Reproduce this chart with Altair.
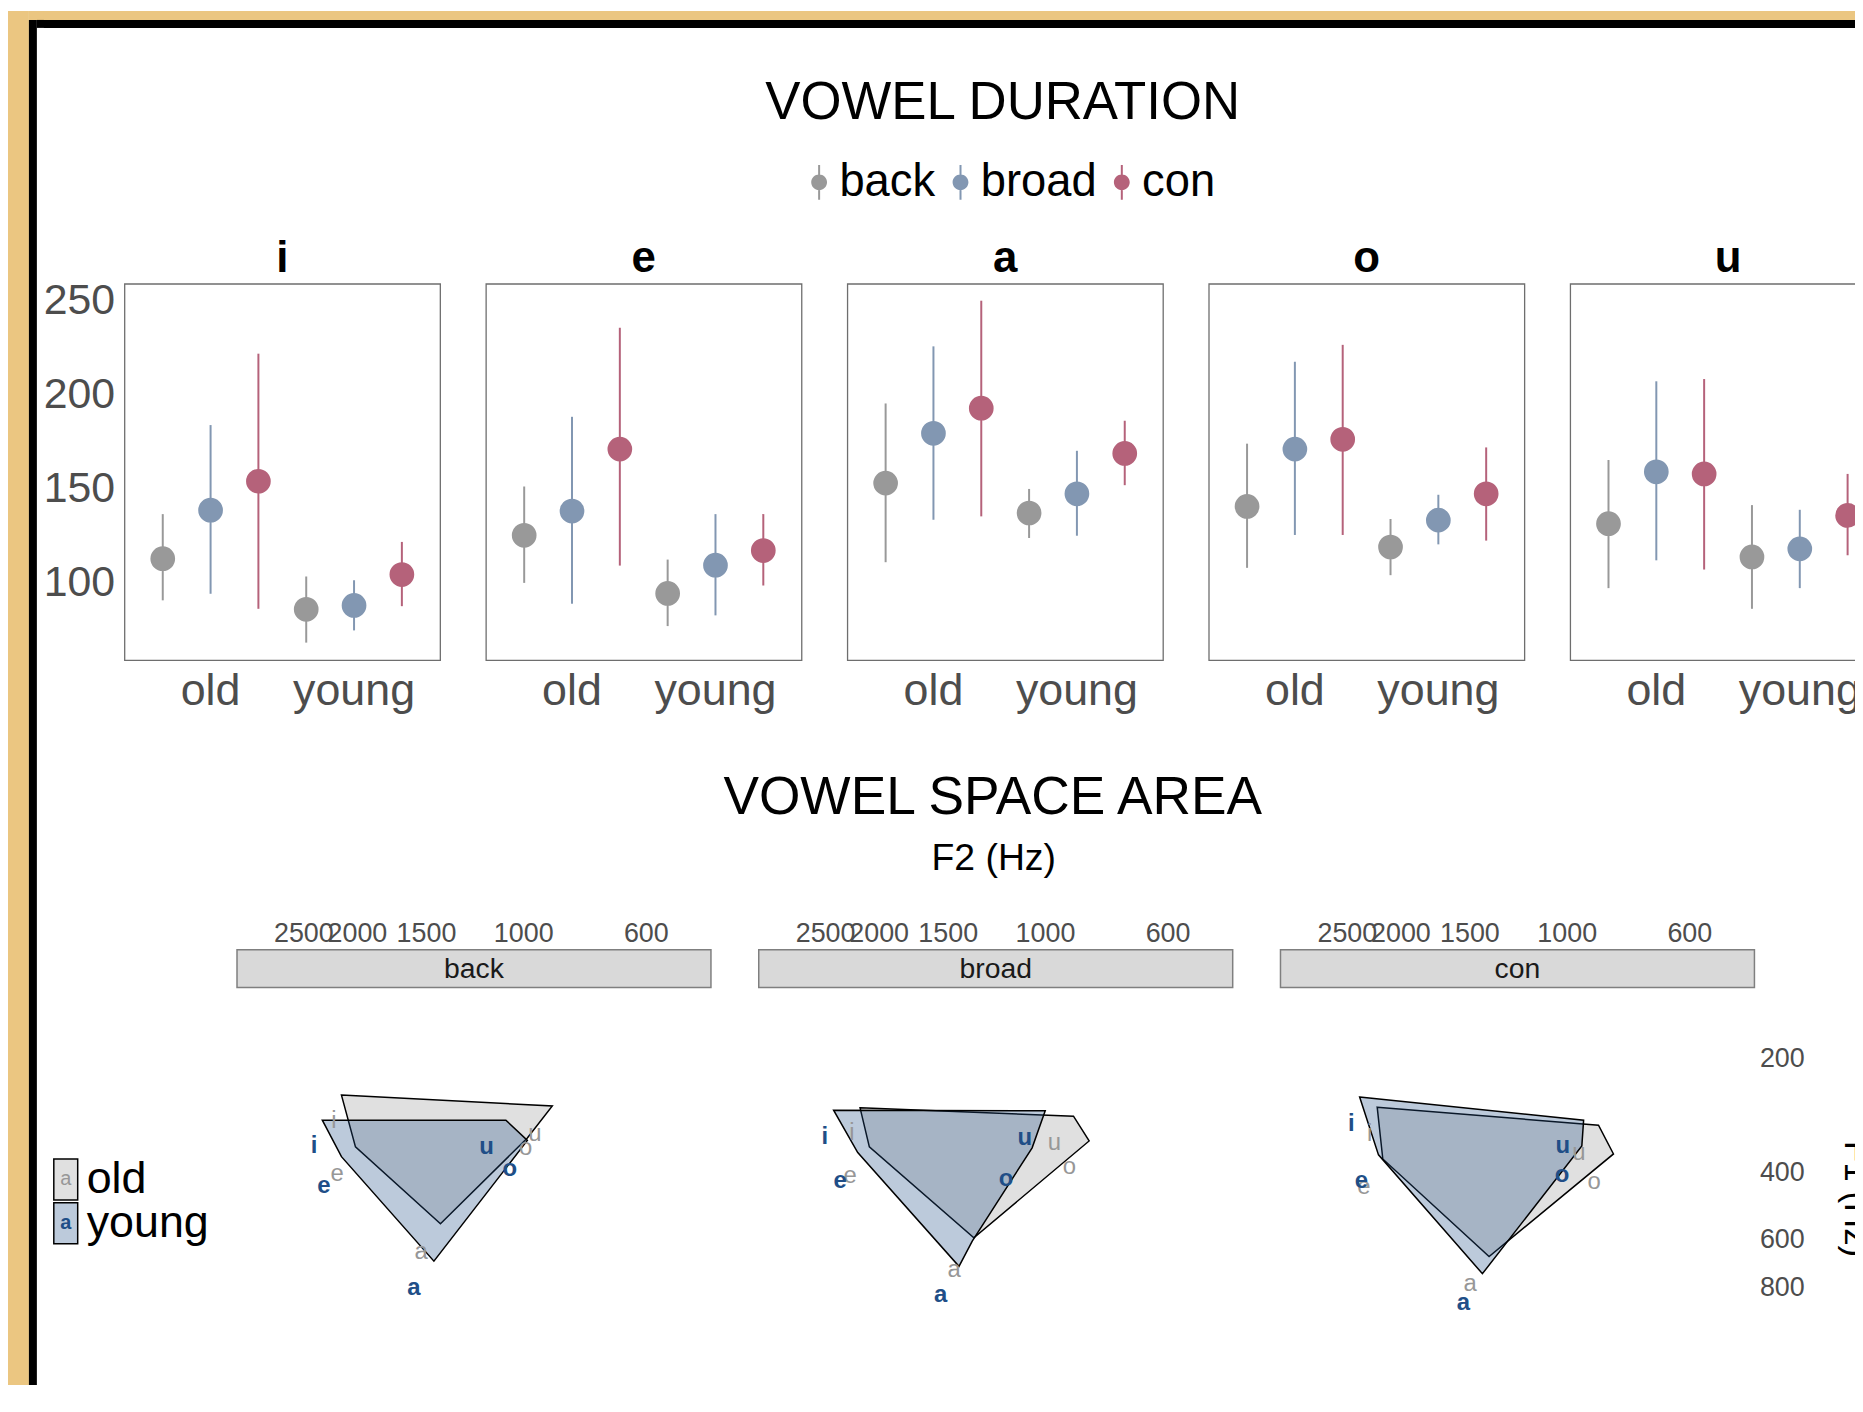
import altair as alt
import pandas as pd

FONT = "Liberation Sans"
ORANGE = "#EBC681"
TITLE_TOP = "VOWEL DURATION"
TITLE_BOTTOM = "VOWEL SPACE AREA"
X_TITLE_BOTTOM = "F2 (Hz)"

# ---------------- vowel duration data ----------------
vowels = ["i", "e", "a", "o", "u"]
ages = ["old", "young"]
groups = ["back", "broad", "con"]
group_colors = ["#999999", "#8297B2", "#B5627A"]

# order inside each list: old-back, old-broad, old-con, young-back, young-broad, young-con
dur_mean = {
    "i": [112.7, 138.5, 153.9, 85.7, 87.8, 104.2],
    "e": [125.1, 138.0, 171.0, 94.2, 109.2, 117.0],
    "a": [152.9, 179.4, 192.8, 137.0, 147.2, 168.7],
    "o": [140.5, 171.0, 176.2, 118.9, 133.2, 147.2],
    "u": [131.3, 158.9, 157.8, 113.6, 117.9, 135.7],
}
dur_low = {
    "i": [90.5, 94.0, 86.0, 68.0, 74.5, 87.4],
    "e": [99.8, 88.7, 109.0, 76.8, 82.5, 98.4],
    "a": [110.8, 133.4, 135.2, 123.7, 124.9, 151.8],
    "o": [107.8, 125.3, 125.3, 103.9, 120.3, 122.3],
    "u": [97.0, 111.8, 106.9, 86.0, 97.0, 114.5],
}
dur_high = {
    "i": [136.4, 183.8, 221.8, 103.2, 101.2, 121.6],
    "e": [151.1, 188.2, 235.6, 112.2, 136.4, 136.4],
    "a": [195.3, 225.7, 250.0, 149.8, 170.1, 186.1],
    "o": [173.9, 217.5, 226.5, 133.8, 146.7, 171.9],
    "u": [165.2, 207.1, 208.3, 141.2, 138.7, 157.8],
}

# ---------------- vowel space data (Hz) ----------------
age_fill = ["#979797", "#204E87"]
poly_f2 = {
    ("back", "old"): [2133, 886, 983, 1412, 2012],
    ("back", "young"): [2310, 1075, 983, 1451, 2133],
    ("broad", "old"): [2161, 888, 832, 1345, 2079],
    ("broad", "young"): [2413, 999, 1055, 1354, 1431, 2182],
    ("con", "old"): [2203, 876, 823, 1382, 2152],
    ("con", "young"): [2370, 932, 939, 1421, 2191],
}
poly_f1 = {
    ("back", "old"): [250, 267, 324, 545, 342],
    ("back", "young"): [291, 291, 329, 683, 363],
    ("broad", "old"): [270, 284, 330, 593, 342],
    ("broad", "young"): [274, 275, 344, 605, 705, 354],
    ("con", "old"): [269, 300, 357, 664, 368],
    ("con", "young"): [253, 291, 340, 737, 359],
}
# label order: i, e, a, o, u
label_f2 = {
    ("back", "young"): [2391, 2295, 1577, 1058, 1165],
    ("back", "old"): [2202, 2171, 1530, 990, 953],
    ("broad", "young"): [2504, 2348, 1544, 1176, 1088],
    ("broad", "old"): [2236, 2252, 1460, 903, 962],
    ("con", "young"): [2453, 2353, 1538, 1020, 1016],
    ("con", "old"): [2274, 2328, 1496, 892, 951],
}
label_f1 = {
    ("back", "young"): [340, 433, 806, 391, 342],
    ("back", "old"): [292, 402, 647, 344, 317],
    ("broad", "young"): [323, 420, 840, 416, 325],
    ("broad", "old"): [314, 407, 720, 387, 335],
    ("con", "young"): [298, 420, 880, 405, 340],
    ("con", "old"): [317, 437, 786, 424, 356],
}

# ---------------- tables ----------------
rows = []
for v in vowels:
    k = 0
    for a in ages:
        for g in groups:
            rows.append(dict(vowel=v, age=a, grp=g, mean=dur_mean[v][k],
                             lo=dur_low[v][k], hi=dur_high[v][k]))
            k += 1
dur_df = pd.DataFrame(rows)

vrows = []
for g in groups:
    for a in ages:
        for j, (f2, f1) in enumerate(zip(poly_f2[(g, a)], poly_f1[(g, a)])):
            vrows.append(dict(grp=g, age=a, kind="poly", ord=j, vowel="", F2=f2, F1=f1))
        for j, (f2, f1) in enumerate(zip(label_f2[(g, a)], label_f1[(g, a)])):
            vrows.append(dict(grp=g, age=a, kind="label", ord=j, vowel=vowels[j], F2=f2, F1=f1))
vsa_df = pd.DataFrame(vrows)

one = pd.DataFrame({"k": [0]})
PAGE_H = 1380


def band(x1, x2, y1, y2, color):
    return alt.Chart(one).mark_rect(color=color).encode(
        x=alt.value(x1), x2=alt.value(x2), y=alt.value(y1), y2=alt.value(y2))


def title_text(txt, size, x, y):
    return alt.Chart(one).mark_text(text=txt, fontSize=size, font=FONT, baseline="alphabetic",
                                    align="center", color="black").encode(x=alt.value(x), y=alt.value(y))


# ---------------- header (title + legend) ----------------
legend_path = ("M0.087,-1.1L0.213,-1.1L0.213,1.1L0.087,1.1Z "
               "M-0.35,0A0.5,0.5 0 1,1 0.65,0A0.5,0.5 0 1,1 -0.35,0Z")
hdr_df = pd.DataFrame({"grp": groups})
dummy = alt.Chart(hdr_df).mark_point(filled=True, opacity=0).encode(
    x=alt.value(10), y=alt.value(100),
    color=alt.Color("grp:N", sort=groups,
                    scale=alt.Scale(domain=groups, range=group_colors),
                    legend=alt.Legend(title=None, orient="none", legendX=672.5, legendY=149,
                                      direction="horizontal", symbolType=legend_path,
                                      symbolSize=1012, symbolStrokeWidth=0, symbolOpacity=1,
                                      labelFontSize=45.5, labelFont=FONT, labelColor="black",
                                      labelOffset=0, columnPadding=0, padding=0)))
header = alt.layer(
    band(-81, 1770, 0, 9, ORANGE),
    band(-81, 1770, 9, 17, "black"),
    title_text(TITLE_TOP, 53, 882, 108),
    dummy,
).properties(width=1700, height=190)

# ---------------- top facet: vowel duration ----------------
ydom = [58.66, 259.0]
xenc = alt.X("age:N", sort=ages, scale=alt.Scale(paddingInner=0, paddingOuter=0.1),
             axis=alt.Axis(title=None, labelAngle=0, labelFontSize=45, labelColor="#4D4D4D",
                           ticks=False, domain=False, labelPadding=8, labelFont=FONT))
xoff = alt.XOffset("grp:N", sort=groups, scale=alt.Scale(paddingInner=0, paddingOuter=0))
col = alt.Color("grp:N", sort=groups, scale=alt.Scale(domain=groups, range=group_colors), legend=None)
yaxis = alt.Axis(title=None, values=[100, 150, 200, 250], labelFontSize=43, labelColor="#4D4D4D",
                 ticks=False, domain=False, grid=False, labelPadding=9, labelFont=FONT)

rules = alt.Chart().mark_rule(strokeWidth=2).encode(
    x=xenc, xOffset=xoff,
    y=alt.Y("lo:Q", scale=alt.Scale(domain=ydom, nice=False, zero=False), axis=yaxis),
    y2="hi:Q", color=col)
points = alt.Chart().mark_circle(size=616, opacity=1).encode(
    x=xenc, xOffset=xoff,
    y=alt.Y("mean:Q", scale=alt.Scale(domain=ydom, nice=False, zero=False), axis=yaxis),
    color=col)
top_facet = alt.layer(rules, points, data=dur_df).properties(
    width=317, height=378,
    view=alt.ViewBackground(stroke="#6E6E6E", strokeWidth=1.3),
).facet(
    column=alt.Column("vowel:N", sort=vowels,
                      header=alt.Header(title=None, labelFontSize=44, labelFontWeight="bold",
                                        labelFont=FONT, labelColor="black", labelPadding=2,
                                        labelBaseline="top")),
    spacing=44,
)

# ---------------- second header (bottom title) ----------------
header2 = alt.layer(
    title_text(TITLE_BOTTOM, 53.5, 872, 67),
    title_text(X_TITLE_BOTTOM, 37.5, 873, 123),
).properties(width=1500, height=138.7)

# ---------------- bottom facet: vowel space area ----------------
x2enc = alt.X("F2:Q", scale=alt.Scale(type="log", domain=[457.4, 3296.2], reverse=True, nice=False, zero=False),
              axis=alt.Axis(orient="top", values=[2500, 2000, 1500, 1000, 600], format="d", title=None,
                            labelFontSize=27, labelColor="#4D4D4D", ticks=False, domain=False, grid=False,
                            labelPadding=0, labelFont=FONT, labelOverlap=False, labelFlush=False))
y2enc = alt.Y("F1:Q", scale=alt.Scale(type="log", domain=[103.7, 1639], reverse=True, nice=False, zero=False),
              axis=alt.Axis(orient="right", values=[200, 400, 600, 800], format="d", title="F1 (Hz)",
                            titleFontSize=35, titleFont=FONT, titleFontWeight="normal", titleColor="black",
                            titlePadding=33, titleY=250, labelFontSize=27, labelColor="#4D4D4D",
                            ticks=False, domain=False, grid=False, labelPadding=3, labelFont=FONT,
                            labelOverlap=False, labelFlush=False))
fill_age = alt.Fill("age:N", sort=ages, scale=alt.Scale(domain=ages, range=age_fill), legend=None)

polys = alt.Chart().transform_filter("datum.kind == 'poly'").mark_line(
    interpolate="linear-closed", stroke="black", strokeWidth=1.5).encode(
    x=x2enc, y=y2enc, order="ord:Q", detail="age:N", fill=fill_age, fillOpacity=alt.value(0.3))
lab_old = alt.Chart().transform_filter("datum.kind == 'label' && datum.age == 'old'").mark_text(
    fontSize=24, font=FONT, color=age_fill[0]).encode(x=x2enc, y=y2enc, text="vowel:N")
lab_young = alt.Chart().transform_filter("datum.kind == 'label' && datum.age == 'young'").mark_text(
    fontSize=24, font=FONT, fontWeight="bold", color=age_fill[1]).encode(x=x2enc, y=y2enc, text="vowel:N")
strip_rect = alt.Chart().transform_aggregate(n="count()", groupby=["grp"]).mark_rect(
    fill="#D9D9D9", stroke="#7F7F7F", strokeWidth=1.5).encode(
    x=alt.value(0), x2=alt.value(476), y=alt.value(0), y2=alt.value(38))
strip_text = alt.Chart().transform_aggregate(n="count()", groupby=["grp"]).mark_text(
    fontSize=28.5, font=FONT, color="#1A1A1A").encode(
    x=alt.value(238), y=alt.value(19), text="grp:N")

bottom_facet = alt.layer(polys, lab_old, lab_young, strip_rect, strip_text, data=vsa_df).properties(
    width=476, height=458,
).facet(
    column=alt.Column("grp:N", sort=groups, header=alt.Header(title=None, labels=False)),
    spacing=44,
)

spacer = alt.Chart(one).mark_point(opacity=0).encode(x=alt.value(0), y=alt.value(0)).properties(
    width=100, height=10)
bottom_section = alt.hconcat(spacer, bottom_facet, spacing=10).resolve_scale(
    color="independent", fill="independent")

# ---------------- left frame + old/young legend ----------------
leg_df = pd.DataFrame({"age": ages})
yleg = alt.Y("age:N", sort=ages, scale=alt.Scale(domain=ages, range=[1153, 1238],
                                                 paddingInner=0.06, paddingOuter=0), axis=None)
leg_rect = alt.Chart(leg_df).mark_rect(stroke="black", strokeWidth=1.5).encode(
    x=alt.value(46), x2=alt.value(70), y=yleg, fill=fill_age, fillOpacity=alt.value(0.3))
leg_a_old = alt.Chart(leg_df).transform_filter("datum.age == 'old'").mark_text(
    text="a", fontSize=20, font=FONT, color=age_fill[0]).encode(x=alt.value(58), y=yleg)
leg_a_young = alt.Chart(leg_df).transform_filter("datum.age == 'young'").mark_text(
    text="a", fontSize=20, font=FONT, fontWeight="bold", color=age_fill[1]).encode(x=alt.value(58), y=yleg)
leg_lab = alt.Chart(leg_df).mark_text(fontSize=45, font=FONT, align="left", color="black").encode(
    x=alt.value(79), y=yleg, text="age:N")

frame_col = alt.layer(
    band(0, 21, 0, PAGE_H, ORANGE),
    band(21, 29, 9, PAGE_H, "black"),
    band(21, 60, 0, 9, ORANGE),
    band(29, 60, 9, 17, "black"),
    leg_rect, leg_a_old, leg_a_young, leg_lab,
).properties(width=117, height=PAGE_H)

# ---------------- assemble ----------------
inner = alt.vconcat(header, top_facet, spacing=30).resolve_scale(color="independent")
main = alt.vconcat(inner, header2, bottom_section, spacing=32.9).resolve_scale(
    color="independent", fill="independent")
chart = alt.hconcat(frame_col, main, spacing=0, bounds="flush").resolve_scale(
    color="independent", fill="independent", y="independent", x="independent"
).properties(
    autosize=alt.AutoSizeParams(type="none"),
    padding={"left": 0, "top": 0, "right": 1855, "bottom": PAGE_H},
).configure(background="white", font=FONT).configure_view(stroke="transparent")

chart.save("out.html", embed_options={"renderer": "svg", "actions": False})
